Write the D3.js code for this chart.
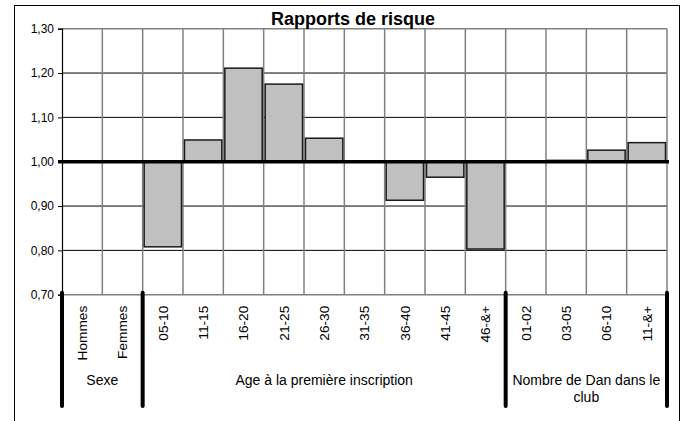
<!DOCTYPE html>
<html>
<head>
<meta charset="utf-8">
<script src="https://cdn.jsdelivr.net/npm/d3@7"></script>
<style>
  body { margin: 0; background: #fff; }
  text { font-family: "Liberation Sans", Arial, sans-serif; fill: #000; }
</style>
</head>
<body>
<div id="chart"></div>
<script>
const categories = ["Hommes", "Femmes", "05-10", "11-15", "16-20", "21-25", "26-30", "31-35",
    "36-40", "41-45", "46-&+", "01-02", "03-05", "06-10", "11-&+"];
const ratios = [1.00, 1.00, 0.808, 1.049, 1.211, 1.175, 1.053, 1.00,
    0.913, 0.965, 0.803, 1.00, 1.003, 1.026, 1.043];
const groupNames = ["Sexe", "Age à la première inscription", "Nombre de Dan dans le club"];
const groupStart = ["Hommes", "05-10", "01-02"];
const groupEnd = ["Femmes", "46-&+", "11-&+"];
const yTicks = [0.70, 0.80, 0.90, 1.00, 1.10, 1.20, 1.30];

const size = { width: 686, height: 421 };
const plot = { left: 62, right: 667, top: 28.7, bottom: 294.7 };

const svg = d3.select("#chart").append("svg")
    .attr("width", size.width)
    .attr("height", size.height);

// outer frame, runs off the bottom like in the source
svg.append("rect")
    .attr("x", 14.5).attr("y", 5.5)
    .attr("width", 665).attr("height", 440)
    .attr("fill", "none").attr("stroke", "#000").attr("stroke-width", 1);

const x = d3.scaleBand()
    .domain(categories)
    .range([plot.left, plot.right])
    .padding(0);

const y = d3.scaleLinear()
    .domain([0.7, 1.3])
    .range([plot.bottom, plot.top]);

const fmt = v => d3.format(".2f")(v).replace(".", ",");

// horizontal grid
svg.append("g").selectAll("line")
    .data(yTicks)
    .join("line")
    .attr("x1", plot.left).attr("x2", plot.right)
    .attr("y1", d => y(d)).attr("y2", d => y(d))
    .attr("stroke", d => (d === 0.7 || d === 1.3) ? "#808080" : "#000")
    .attr("stroke-width", d => (d === 0.7 || d === 1.3) ? 1.5 : 1);

// vertical grid at category boundaries
const bounds = categories.map(c => x(c)).concat([plot.right]);
svg.append("g").selectAll("line")
    .data(bounds.slice(1))
    .join("line")
    .attr("x1", d => d).attr("x2", d => d)
    .attr("y1", plot.top).attr("y2", plot.bottom)
    .attr("stroke", "#808080")
    .attr("stroke-width", 1.5);

// y axis
const yAxis = svg.append("g")
    .attr("transform", `translate(${plot.left},0)`)
    .call(d3.axisLeft(y).tickValues(yTicks).tickFormat(fmt).tickSize(4).tickPadding(4));
yAxis.select(".domain").attr("stroke", "#000").attr("stroke-width", 1.2);
yAxis.selectAll(".tick line").attr("stroke", "#000");
yAxis.selectAll(".tick text")
    .style("font-family", "'Liberation Sans', Arial, sans-serif")
    .style("font-size", "12px");

// bars
const inset = 1.5;
svg.append("g").selectAll("rect")
    .data(categories.map((c, i) => ({ c, v: ratios[i] })).filter(d => d.v !== 1))
    .join("rect")
    .attr("x", d => x(d.c) + inset)
    .attr("width", x.bandwidth() - 2 * inset)
    .attr("y", d => Math.min(y(d.v), y(1)))
    .attr("height", d => Math.abs(y(d.v) - y(1)))
    .attr("fill", "#c0c0c0")
    .attr("stroke", "#1a1a1a")
    .attr("stroke-width", 1.5);

// reference line at 1,00
svg.append("line")
    .attr("x1", plot.left - 4).attr("x2", plot.right + 2)
    .attr("y1", y(1)).attr("y2", y(1))
    .attr("stroke", "#000").attr("stroke-width", 3.5);

// category labels
svg.append("g").selectAll("text")
    .data(categories)
    .join("text")
    .attr("transform", d => `translate(${x(d) + x.bandwidth() / 2},${plot.bottom + 11}) rotate(-90)`)
    .attr("text-anchor", "end")
    .attr("dy", "0.36em")
    .style("font-size", "13.7px")
    .text(d => d);

// group separators
const sepX = [x(groupStart[0]), x(groupStart[1]), x(groupStart[2]), plot.right];
svg.append("g").selectAll("line")
    .data(sepX)
    .join("line")
    .attr("x1", d => d).attr("x2", d => d)
    .attr("y1", plot.bottom - 2).attr("y2", 406)
    .attr("stroke", "#000")
    .attr("stroke-width", 4)
    .attr("stroke-linecap", "round");

// group labels
const groupLines = [["Sexe"], ["Age à la première inscription"], ["Nombre de Dan dans le", "club"]];
groupNames.forEach((g, i) => {
    const cx = (x(groupStart[i]) + x(groupEnd[i]) + x.bandwidth()) / 2;
    const t = svg.append("text")
        .attr("text-anchor", "middle")
        .style("font-size", "14px");
    groupLines[i].forEach((line, j) => {
        t.append("tspan").attr("x", cx).attr("y", 385 + j * 16.5).text(line);
    });
});

// title
svg.append("text")
    .attr("x", 353)
    .attr("y", 25)
    .attr("text-anchor", "middle")
    .style("font-size", "18px")
    .style("font-weight", "bold")
    .text("Rapports de risque");
</script>
</body>
</html>
